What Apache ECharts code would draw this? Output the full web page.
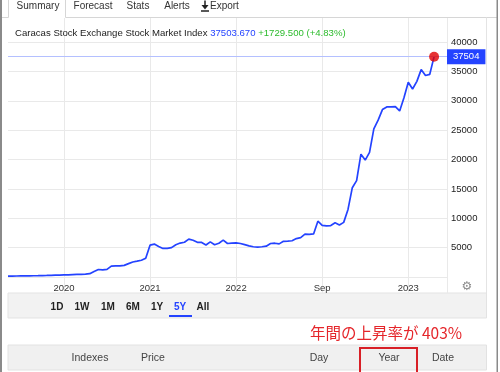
<!DOCTYPE html>
<html><head><meta charset="utf-8">
<script src="https://cdn.jsdelivr.net/npm/echarts@6/dist/echarts.min.js"></script>
<style>html,body{margin:0;padding:0;background:#fff}#c{width:500px;height:372px}</style>
</head><body><div id="c"></div>
<script>
// ---- data ----
const indexValues = [
  150,160,170,180,190,200,210,220,240,260,
  290,310,330,350,370,400,430,460,500,560,
  950,1280,1200,1300,1850,1890,1900,1980,2280,2550,
  2690,2850,3200,5420,5600,5200,4860,4870,5000,5500,
  5780,5920,6450,6250,5900,5880,5450,5980,5500,5750,
  6270,5700,5780,5810,5700,5500,5300,5150,5080,5150,
  5250,5700,5750,5640,6080,6120,6170,6540,6700,7300,
  7250,7330,9500,8800,8700,8760,9220,8850,9300,11500,
  15200,16400,20900,19900,21200,25200,26700,28500,28950,28950,
  29000,28270,30500,33160,32000,33300,35300,34300,34500,37504
];
const categoryCount = 103;
const categories = Array.from({length: categoryCount}, (_, i) => String(i));
const xTickLabels = {13: '2020', 33: '2021', 53: '2022', 73: 'Sep', 93: '2023'};
const gridLineIdx = [13, 33, 53, 73, 93, 102];
const yMin = 0, yMax = 40000, yStep = 5000;
const lastLabel = '37504';
const headline = 'Caracas Stock Exchange Stock Market Index';
const priceText = '37503.670';
const changeText = '+1729.500 (+4.83%)';
const tabs = ['Summary', 'Forecast', 'Stats', 'Alerts', 'Export'];
const ranges = ['1D', '1W', '1M', '6M', '1Y', '5Y', 'All'];
const tableCols = ['Indexes', 'Price', 'Day', 'Year', 'Date'];
const note = '年間の上昇率が 403%';

const FONT = '"Liberation Sans", Arial, sans-serif';
const BLUE = '#2443ff';
const GRID = '#e9e9e9';

const chart = echarts.init(document.getElementById('c'), null, {renderer: 'canvas'});
const lastIdx = indexValues.length - 1;

const tabX = [38, 93, 138, 177, 210];
const rangeX = [57, 82, 108, 133, 157, 180, 203];
const colX = [90, 153, 319, 389, 443];

const graphics = [];
// page borders
graphics.push({type: 'rect', shape: {x: 0, y: 0, width: 2, height: 372}, style: {fill: '#8a8a8a'}, z: 100});
graphics.push({type: 'rect', shape: {x: 496.5, y: 0, width: 1.5, height: 372}, style: {fill: '#8a8a8a'}, z: 100});
// tab bar lines
graphics.push({type: 'polyline', shape: {points: [[2, 17.5], [8.5, 17.5], [8.5, 0]]}, style: {stroke: '#d6d6d6', lineWidth: 1, fill: null}});
graphics.push({type: 'polyline', shape: {points: [[65.5, 0], [65.5, 17.5], [497, 17.5]]}, style: {stroke: '#d6d6d6', lineWidth: 1, fill: null}});
// chart panel right border
graphics.push({type: 'line', shape: {x1: 486.5, y1: 17.5, x2: 486.5, y2: 318}, style: {stroke: '#e4e4e4', lineWidth: 1}});
// tabs
tabs.forEach((t, i) => {
  graphics.push({type: 'text', style: {text: t, x: tabX[i], y: 6.5, textAlign: i === 4 ? 'left' : 'center', textVerticalAlign: 'middle', font: '10px ' + FONT, fill: '#333'}});
});
// export icon
graphics.push({type: 'line', shape: {x1: 205, y1: 0.5, x2: 205, y2: 6}, style: {stroke: '#222', lineWidth: 1.5}});
graphics.push({type: 'polygon', shape: {points: [[201.5, 5], [208.5, 5], [205, 9.5]]}, style: {fill: '#222'}});
graphics.push({type: 'line', shape: {x1: 201, y1: 11, x2: 209, y2: 11}, style: {stroke: '#222', lineWidth: 1.5}});
// range selector band
graphics.push({type: 'rect', shape: {x: 8, y: 293, width: 478.5, height: 25}, style: {fill: '#f2f2f2', stroke: '#e3e3e3', lineWidth: 1}});
ranges.forEach((r, i) => {
  graphics.push({type: 'text', style: {text: r, x: rangeX[i], y: 307.5, textAlign: 'center', textVerticalAlign: 'middle', font: 'bold 10px ' + FONT, fill: r === '5Y' ? BLUE : '#222'}});
});
graphics.push({type: 'rect', shape: {x: 169, y: 315, width: 23, height: 2}, style: {fill: BLUE}});
// gear
graphics.push({type: 'text', style: {text: '\u2699', x: 467, y: 287, textAlign: 'center', textVerticalAlign: 'middle', font: '12px "DejaVu Sans"', fill: '#8a8a8a'}});
// red note
graphics.push({type: 'text', style: {text: note, x: 310, y: 333, textAlign: 'left', textVerticalAlign: 'middle', font: '15.5px "Noto Sans CJK JP"', fill: '#e5262b'}});
// table header band
graphics.push({type: 'rect', shape: {x: 8, y: 345, width: 478.5, height: 25}, style: {fill: '#f0f0f0', stroke: '#e2e2e2', lineWidth: 1}});
tableCols.forEach((c, i) => {
  graphics.push({type: 'text', style: {text: c, x: colX[i], y: 358, textAlign: 'center', textVerticalAlign: 'middle', font: '10.5px ' + FONT, fill: '#444'}});
});
graphics.push({type: 'rect', shape: {x: 360, y: 348, width: 57, height: 40}, style: {fill: null, stroke: '#d81f26', lineWidth: 2}, z: 50});

const option = {
  animation: false,
  backgroundColor: '#fff',
  title: {
    left: 15, top: 28.5, padding: 0,
    text: '{a|' + headline + '} {b|' + priceText + '} {c|' + changeText + '}',
    textStyle: {fontWeight: 'normal', fontSize: 9.6, rich: {
      a: {fontFamily: FONT, fontSize: 9.6, fontWeight: 'normal', color: '#222'},
      b: {fontFamily: FONT, fontSize: 9.6, fontWeight: 'normal', color: BLUE},
      c: {fontFamily: FONT, fontSize: 9.6, fontWeight: 'normal', color: '#2dbb2d'}
    }}
  },
  grid: [
    {left: 8, right: 53, top: 42, height: 235},
    {left: 8, right: 53, top: 18, height: 275}
  ],
  xAxis: [
    {
      type: 'category', gridIndex: 0, data: categories, boundaryGap: false,
      axisLine: {show: false}, axisTick: {show: false}, splitLine: {show: false},
      axisLabel: {
        interval: (i) => xTickLabels[i] !== undefined,
        formatter: (v, i) => xTickLabels[i] || '',
        fontFamily: FONT, fontSize: 9.5, color: '#333', margin: 6
      }
    },
    {
      type: 'category', gridIndex: 1, data: categories, boundaryGap: false,
      axisLine: {show: false}, axisTick: {show: false}, axisLabel: {show: false},
      splitLine: {show: true, interval: (i) => gridLineIdx.indexOf(i) >= 0, lineStyle: {color: GRID, width: 1}}
    }
  ],
  yAxis: [
    {
      type: 'value', gridIndex: 0, position: 'right', min: yMin, max: yMax, interval: yStep,
      axisLine: {show: false}, axisTick: {show: false},
      splitLine: {show: true, lineStyle: {color: GRID, width: 1}},
      axisLabel: {formatter: (v) => v === 0 ? '' : String(v), fontFamily: FONT, fontSize: 9.5, color: '#222', margin: 4}
    },
    {type: 'value', gridIndex: 1, show: false, min: 0, max: 1}
  ],
  series: [
    {
      type: 'line', xAxisIndex: 0, yAxisIndex: 0, data: indexValues,
      showSymbol: false, symbol: 'none', smooth: false,
      lineStyle: {color: BLUE, width: 1.7}, z: 3,
      markLine: {
        silent: true, symbol: ['none', 'none'],
        lineStyle: {color: '#b4c0ff', type: 'solid', width: 1},
        label: {
          show: true, position: 'end', distance: 0, formatter: lastLabel,
          backgroundColor: BLUE, color: '#fff', fontFamily: FONT, fontSize: 9.5,
          padding: [3, 6, 2, 6]
        },
        data: [{yAxis: indexValues[lastIdx]}]
      }
    },
    {
      type: 'scatter', xAxisIndex: 0, yAxisIndex: 0,
      data: [[lastIdx, indexValues[lastIdx]]],
      symbolSize: 10, itemStyle: {color: '#e00000'}, z: 5
    }
  ],
  graphic: graphics
};
chart.setOption(option);
</script></body></html>
